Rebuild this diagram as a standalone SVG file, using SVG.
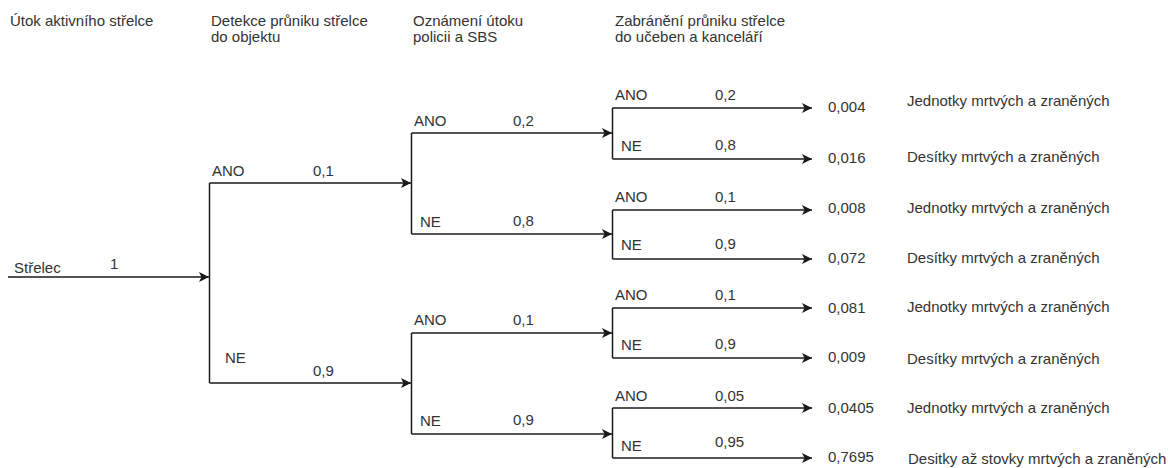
<svg xmlns="http://www.w3.org/2000/svg" width="1168" height="468" viewBox="0 0 1168 468">
  <style>
    text { font-family: "Liberation Sans", Arial, sans-serif; font-size: 15px; fill: #333333; }
    .edge { fill: none; stroke: #1a1a1a; stroke-width: 1.5; }
    .arrow { marker-end: url(#arrowhead); }
  </style>
  <defs>
    <marker id="arrowhead" markerUnits="userSpaceOnUse" markerWidth="11" markerHeight="11" refX="10" refY="5" orient="auto">
      <path d="M0,0 L10,5 L0,10 L2.5,5 Z" fill="#1a1a1a"/>
    </marker>
  </defs>
  <rect width="1168" height="468" fill="#ffffff"/>

  <!-- column headings -->
  <g id="headings">
    <text x="10" y="26">Útok aktivního střelce</text>
    <text x="211" y="26">Detekce průniku střelce</text>
    <text x="211" y="42">do objektu</text>
    <text x="413" y="26">Oznámení útoku</text>
    <text x="413" y="42">policii a SBS</text>
    <text x="615" y="26">Zabránění průniku střelce</text>
    <text x="615" y="42">do učeben a kanceláří</text>
  </g>

  <!-- tree branches -->
  <g id="connectors">
    <!-- root -->
    <path class="edge arrow" d="M8,277 H209"/>
    <path class="edge" d="M209.5,183 V383"/>
    <!-- level 1 -->
    <path class="edge arrow" d="M209.5,183 H411"/>
    <path class="edge arrow" d="M209.5,383 H411"/>
    <path class="edge" d="M411.5,133 V234"/>
    <path class="edge" d="M411.5,333 V434"/>
    <!-- level 2 -->
    <path class="edge arrow" d="M411.5,133 H612"/>
    <path class="edge arrow" d="M411.5,234 H612"/>
    <path class="edge arrow" d="M411.5,333 H612"/>
    <path class="edge arrow" d="M411.5,434 H612"/>
    <path class="edge" d="M612.5,108 V159"/>
    <path class="edge" d="M612.5,210 V259"/>
    <path class="edge" d="M612.5,308 V358"/>
    <path class="edge" d="M612.5,408 V458"/>
    <!-- level 3 -->
    <path class="edge arrow" d="M612.5,108 H812"/>
    <path class="edge arrow" d="M612.5,159 H812"/>
    <path class="edge arrow" d="M612.5,210 H812"/>
    <path class="edge arrow" d="M612.5,259 H812"/>
    <path class="edge arrow" d="M612.5,308 H812"/>
    <path class="edge arrow" d="M612.5,358 H812"/>
    <path class="edge arrow" d="M612.5,408 H812"/>
    <path class="edge arrow" d="M612.5,458 H812"/>
  </g>

  <g id="root">
    <text x="14" y="273">Střelec</text>
    <text x="110" y="269">1</text>
  </g>

  <g id="detection">
    <text x="212" y="176">ANO</text>
    <text x="313" y="176">0,1</text>
    <text x="225" y="363">NE</text>
    <text x="313" y="376">0,9</text>
  </g>

  <g id="report-after-detection">
    <text x="414" y="125.5">ANO</text>
    <text x="513" y="125.5">0,2</text>
    <text x="420" y="226.5">NE</text>
    <text x="513" y="226">0,8</text>
  </g>

  <g id="report-without-detection">
    <text x="414" y="325">ANO</text>
    <text x="513" y="325">0,1</text>
    <text x="420" y="426">NE</text>
    <text x="513" y="425">0,9</text>
  </g>

  <g id="prevention-1">
    <text x="615" y="100">ANO</text>
    <text x="715" y="100">0,2</text>
    <text x="621" y="151">NE</text>
    <text x="715" y="150">0,8</text>
  </g>

  <g id="prevention-2">
    <text x="615" y="201.5">ANO</text>
    <text x="715" y="201.5">0,1</text>
    <text x="621" y="250">NE</text>
    <text x="715" y="249">0,9</text>
  </g>

  <g id="prevention-3">
    <text x="615" y="300">ANO</text>
    <text x="715" y="300">0,1</text>
    <text x="621" y="350">NE</text>
    <text x="715" y="349">0,9</text>
  </g>

  <g id="prevention-4">
    <text x="615" y="400.5">ANO</text>
    <text x="715" y="400.5">0,05</text>
    <text x="621" y="451">NE</text>
    <text x="715" y="447">0,95</text>
  </g>

  <!-- outcomes -->
  <g id="outcome-1">
    <text x="828" y="112">0,004</text>
    <text x="907" y="106">Jednotky mrtvých a zraněných</text>
  </g>
  <g id="outcome-2">
    <text x="828" y="163">0,016</text>
    <text x="907" y="162">Desítky mrtvých a zraněných</text>
  </g>
  <g id="outcome-3">
    <text x="828" y="213">0,008</text>
    <text x="907" y="213">Jednotky mrtvých a zraněných</text>
  </g>
  <g id="outcome-4">
    <text x="828" y="263">0,072</text>
    <text x="907" y="263">Desítky mrtvých a zraněných</text>
  </g>
  <g id="outcome-5">
    <text x="828" y="313">0,081</text>
    <text x="907" y="312">Jednotky mrtvých a zraněných</text>
  </g>
  <g id="outcome-6">
    <text x="828" y="362">0,009</text>
    <text x="907" y="364">Desítky mrtvých a zraněných</text>
  </g>
  <g id="outcome-7">
    <text x="828" y="413">0,0405</text>
    <text x="907" y="413">Jednotky mrtvých a zraněných</text>
  </g>
  <g id="outcome-8">
    <text x="828" y="462">0,7695</text>
    <text x="908" y="464">Desitky až stovky mrtvých a zraněných</text>
  </g>
</svg>
